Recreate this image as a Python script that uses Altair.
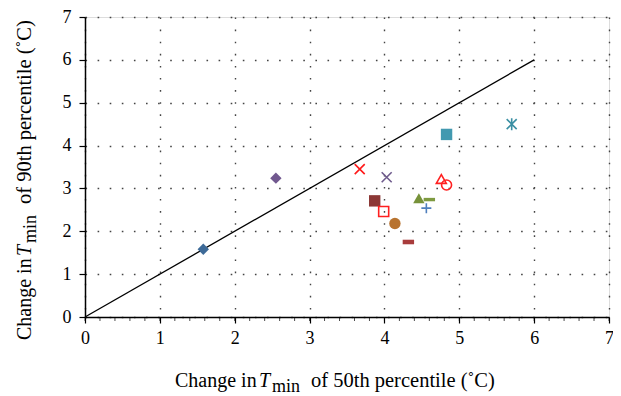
import altair as alt
import pandas as pd

# ---- data ----
filled_keys = ["f1", "f2", "f3", "f4", "f5", "f6", "f7", "f8"]
filled_x = [1.58, 2.55, 3.87, 4.14, 4.32, 4.46, 4.60, 4.83]
filled_y = [1.58, 3.24, 2.71, 2.18, 1.75, 2.77, 2.74, 4.26]
filled_shapes = ["diamond", "diamond", "square", "circle",
                 "M-1,-0.4L1,-0.4L1,0.4L-1,0.4Z", "triangle-up",
                 "M-1,-0.3L1,-0.3L1,0.3L-1,0.3Z", "square"]
filled_colors = ["#3D6A98", "#71588F", "#8C3836", "#B8732F", "#A83C3C",
                 "#77923A", "#7E9A40", "#4299B0"]
filled_sizes = [130, 130, 130, 110, 49, 120, 150, 130]

open_keys = ["o1", "o2", "o3", "o4", "o5", "o6", "o7"]
open_x = [3.67, 4.03, 3.99, 4.56, 4.76, 4.83, 5.70]
open_y = [3.45, 3.26, 2.46, 2.54, 3.22, 3.08, 4.50]
open_shapes = ["M-1,-1L1,1M-1,1L1,-1", "M-1,-1L1,1M-1,1L1,-1", "square",
               "M-1,0L1,0M0,-1L0,1", "triangle-up", "circle",
               "M-1,-1L1,1M-1,1L1,-1M0,-1.2L0,1.2"]
open_colors = ["#FF1A1A", "#6E5A8C", "#FF2020", "#4F7FBD", "#FF2020",
               "#FF2020", "#3A8FA3"]
open_sizes = [100, 100, 100, 100, 110, 100, 90]

line_x = [0, 6]
line_y = [0, 6]

tick_major = [0, 1, 2, 3, 4, 5, 6, 7]
tick_minor = [round(i * 0.2, 1) for i in range(36)]

FONT = "Liberation Serif"

filled_df = pd.DataFrame({"x": filled_x, "y": filled_y, "k": filled_keys})
open_df = pd.DataFrame({"x": open_x, "y": open_y, "k": open_keys})
line_df = pd.DataFrame({"x": line_x, "y": line_y})
minor_df = pd.DataFrame({"x": tick_minor})

xscale = alt.Scale(domain=[0, 7], nice=False, zero=True)
yscale = alt.Scale(domain=[0, 7], nice=False, zero=True)

xaxis = alt.Axis(
    values=tick_major, title=None, format="d",
    labelFont=FONT, labelFontSize=18, labelColor="black", labelPadding=6,
    labelFlush=False, labelOverlap=False,
    tickSize=6, tickColor="black", tickWidth=1.2,
    domainColor="black", domainWidth=1.5,
    grid=True, gridColor="#444", gridDash=[1.6, 10.5], gridWidth=1.4,
)
yaxis = alt.Axis(
    values=tick_major, title=None, format="d",
    labelFont=FONT, labelFontSize=18, labelColor="black", labelPadding=8,
    labelFlush=False, labelOverlap=False,
    tickSize=6, tickColor="black", tickWidth=1.2,
    domainColor="black", domainWidth=1.5,
    grid=True, gridColor="#444", gridDash=[1.6, 10.5], gridWidth=1.4,
)

line = alt.Chart(line_df).mark_line(color="black", strokeWidth=1.3).encode(
    x=alt.X("x:Q", scale=xscale, axis=xaxis),
    y=alt.Y("y:Q", scale=yscale, axis=yaxis),
)

minor = alt.Chart(minor_df).mark_tick(
    color="black", thickness=1, size=4, yOffset=2, orient="vertical"
).encode(
    x=alt.X("x:Q", scale=xscale),
    y=alt.datum(0, scale=yscale),
)

filled = alt.Chart(filled_df).mark_point(filled=True, opacity=1, strokeWidth=0).encode(
    x=alt.X("x:Q", scale=xscale),
    y=alt.Y("y:Q", scale=yscale),
    shape=alt.Shape("k:N", scale=alt.Scale(domain=filled_keys, range=filled_shapes), legend=None),
    fill=alt.Fill("k:N", scale=alt.Scale(domain=filled_keys, range=filled_colors), legend=None),
    size=alt.Size("k:N", scale=alt.Scale(domain=filled_keys, range=filled_sizes), legend=None),
)

opened = alt.Chart(open_df).mark_point(filled=False, opacity=1, strokeWidth=1.6).encode(
    x=alt.X("x:Q", scale=xscale),
    y=alt.Y("y:Q", scale=yscale),
    shape=alt.Shape("k:N", scale=alt.Scale(domain=open_keys, range=open_shapes), legend=None),
    stroke=alt.Stroke("k:N", scale=alt.Scale(domain=open_keys, range=open_colors), legend=None),
    size=alt.Size("k:N", scale=alt.Scale(domain=open_keys, range=open_sizes), legend=None),
)

# ---- axis titles built from text pieces (italic T with subscript) ----
one = pd.DataFrame({"d": [0]})


def piece(text, x, y, size=20, style="normal", angle=0):
    return alt.Chart(one).mark_text(
        text=text, font=FONT, fontSize=size, fontStyle=style, color="black",
        align="left", baseline="alphabetic", angle=angle,
    ).encode(x=alt.value(x), y=alt.value(y))


xt = [
    piece("Change in", 90, 370),
    piece("T", 174, 370, style="italic"),
    piece("min", 187, 375, size=18),
    piece("of 50th percentile (˚C)", 226, 370, size=20.5),
]
yt = [
    piece("Change in", -54, 323, angle=270),
    piece("T", -54, 239, style="italic", angle=270),
    piece("min", -49, 226, size=18, angle=270),
    piece("of 90th percentile (˚C)", -54, 187, size=20.5, angle=270),
]

chart = alt.layer(line, minor, filled, opened, *xt, *yt).resolve_scale(
    shape="independent", size="independent"
).properties(
    width=524, height=300,
    autosize=alt.AutoSizeParams(type="none"),
    padding={"left": 77, "top": 9, "right": 4, "bottom": 78},
).configure_view(stroke="black", strokeWidth=1.5).configure(background="white")

chart.save("out.html", embed_options={"renderer": "svg", "actions": False})
